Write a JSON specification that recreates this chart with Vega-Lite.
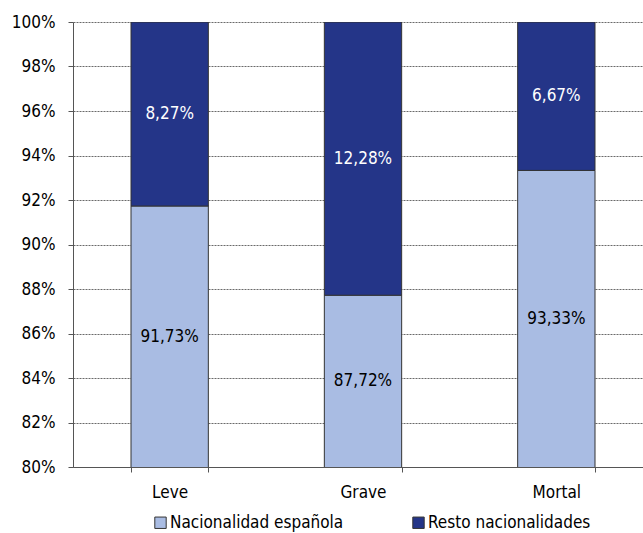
{
  "$schema": "https://vega.github.io/schema/vega-lite/v6.json",
  "width": 570,
  "height": 445,
  "autosize": "none",
  "padding": {"left": 73, "top": 22, "right": 0, "bottom": 66},
  "background": "white",
  "config": {
    "view": {"stroke": null},
    "font": "DejaVu Sans Condensed, Liberation Sans",
    "axis": {"labelFont": "DejaVu Sans Condensed, Liberation Sans", "labelFontSize": 17, "labelColor": "#000"}
  },
  "data": {
    "values": [
      {"gravedad": "Leve", "grupo": "Nacionalidad española", "orden": 1, "valor": 91.73},
      {"gravedad": "Leve", "grupo": "Resto nacionalidades", "orden": 2, "valor": 8.27},
      {"gravedad": "Grave", "grupo": "Nacionalidad española", "orden": 1, "valor": 87.72},
      {"gravedad": "Grave", "grupo": "Resto nacionalidades", "orden": 2, "valor": 12.28},
      {"gravedad": "Mortal", "grupo": "Nacionalidad española", "orden": 1, "valor": 93.33},
      {"gravedad": "Mortal", "grupo": "Resto nacionalidades", "orden": 2, "valor": 6.67}
    ]
  },
  "transform": [
    {"stack": "valor", "groupby": ["gravedad"], "sort": [{"field": "orden"}], "as": ["y0", "y1"]},
    {"calculate": "(max(datum.y0, 80) + datum.y1) / 2", "as": "ymid"},
    {"calculate": "replace(format(datum.valor, '.2f'), '.', ',') + '%'", "as": "etiqueta"}
  ],
  "encoding": {
    "x": {
      "field": "gravedad", "type": "nominal", "sort": ["Leve", "Grave", "Mortal"],
      "scale": {"range": [0, 580], "paddingInner": 0.6, "paddingOuter": 0.3},
      "axis": {"title": null, "labelAngle": 0, "ticks": true, "tickBand": "extent", "domainColor": "#555", "tickColor": "#555", "tickSize": 5, "labelPadding": 12, "grid": false}
    }
  },
  "layer": [
    {
      "mark": {"type": "bar", "clip": true, "stroke": "#333", "strokeWidth": 1},
      "encoding": {
        "y": {
          "field": "y0", "type": "quantitative",
          "scale": {"domain": [80, 100], "nice": false, "zero": false},
          "axis": {"title": null, "values": [80, 82, 84, 86, 88, 90, 92, 94, 96, 98, 100], "labelExpr": "datum.value + '%'", "grid": true, "gridDash": [2, 1], "gridColor": "#444", "gridWidth": 0.8, "domainColor": "#555", "tickColor": "#555", "tickSize": 5, "labelPadding": 13}
        },
        "y2": {"field": "y1"},
        "color": {
          "field": "grupo", "type": "nominal",
          "scale": {"domain": ["Nacionalidad española", "Resto nacionalidades"], "range": ["#A9BCE3", "#243588"]},
          "legend": {"title": null, "orient": "none", "legendX": 79, "legendY": 492, "direction": "horizontal", "symbolType": "square", "symbolSize": 130, "symbolStrokeColor": "#333", "symbolStrokeWidth": 1, "labelFontSize": 17, "labelLimit": 400, "labelFont": "DejaVu Sans Condensed, Liberation Sans", "columnPadding": 66, "labelOffset": 1}
        }
      }
    },
    {
      "mark": {"type": "text", "fontSize": 17, "font": "DejaVu Sans Condensed, Liberation Sans"},
      "encoding": {
        "y": {"field": "ymid", "type": "quantitative"},
        "text": {"field": "etiqueta"},
        "color": {
          "field": "grupo", "type": "nominal",
          "scale": {"domain": ["Nacionalidad española", "Resto nacionalidades"], "range": ["#000000", "#FFFFFF"]},
          "legend": null
        }
      }
    }
  ],
  "resolve": {"scale": {"color": "independent"}}
}
